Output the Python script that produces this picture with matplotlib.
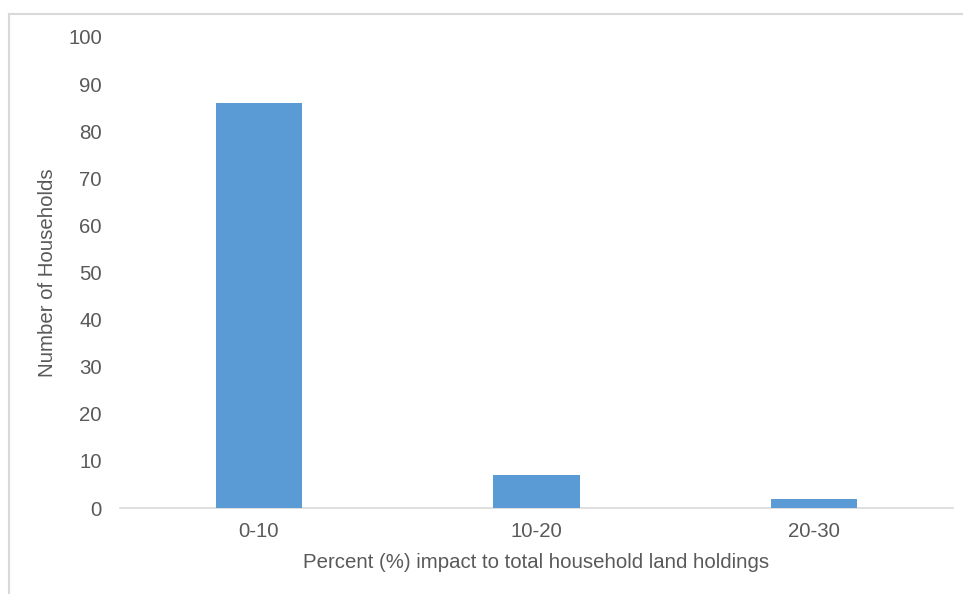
import matplotlib
matplotlib.use("Agg")
import matplotlib.pyplot as plt
from matplotlib.lines import Line2D

categories = ["0-10", "10-20", "20-30"]
households = [86, 7, 2]
yticks = [0, 10, 20, 30, 40, 50, 60, 70, 80, 90, 100]

plt.rcParams['font.family'] = ['Liberation Sans', 'DejaVu Sans']
W, H = 963, 594
fig = plt.figure(figsize=(W/100, H/100), dpi=100)
ax = fig.add_axes([120/W, 1-508/H, (953-120)/W, (508-37)/H])

x = list(range(len(categories)))
ax.bar(x, households, width=0.31, color='#5b9bd5', zorder=3)
ax.set_xlim(-0.5, len(categories)-0.5)
ax.set_ylim(0, 100)
ax.set_yticks(yticks)
ax.set_xticks(x)
ax.set_xticklabels(categories)
for s in ['top', 'right', 'left']:
    ax.spines[s].set_visible(False)
ax.spines['bottom'].set_color('#d9d9d9')
ax.spines['bottom'].set_linewidth(1.2)
ax.tick_params(axis='both', length=0, labelsize=14.7, colors='#595959')
ax.tick_params(axis='y', pad=13)
ax.tick_params(axis='x', pad=10)
ax.set_xlabel("Percent (%) impact to total household land holdings", fontsize=14.7, color='#595959', labelpad=9)
ax.set_ylabel("Number of Households", fontsize=14.7, color='#595959', labelpad=8)

# outer chart frame
fig.add_artist(Line2D([9/W, 1.0], [1-14/H, 1-14/H], transform=fig.transFigure, color='#d9d9d9', lw=1.5))
fig.add_artist(Line2D([9/W, 9/W], [0.0, 1-14/H], transform=fig.transFigure, color='#d9d9d9', lw=1.5))

fig.savefig("out.png", dpi=100, facecolor='white')
